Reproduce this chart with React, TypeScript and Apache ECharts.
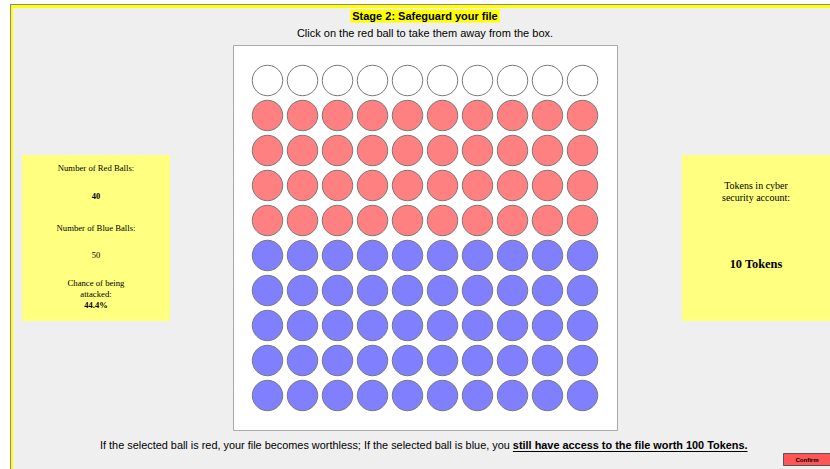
import React, { useEffect, useRef } from 'react';
import * as echarts from 'echarts';

// ---- data ----
const columns = ['1', '2', '3', '4', '5', '6', '7', '8', '9', '10'];
const rows = ['1', '2', '3', '4', '5', '6', '7', '8', '9', '10'];
const rowBallTypes = ['empty', 'red', 'red', 'red', 'red', 'blue', 'blue', 'blue', 'blue', 'blue'];
const ballColors: Record<string, string> = { empty: '#ffffff', red: '#ff8080', blue: '#8080ff' };
const redBalls = '40';
const blueBalls = '50';
const attackChance = '44.4%';
const accountTokens = '10 Tokens';
const titleText = 'Stage 2: Safeguard your file';
const subtitleText = 'Click on the red ball to take them away from the box.';
const footerNormal = 'If the selected ball is red, your file becomes worthless; If the selected ball is blue, you';
const footerBold = 'still have access to the file worth 100 Tokens.';

const SANS = 'Arial, "Liberation Sans", sans-serif';
const SERIF = '"Liberation Serif", "DejaVu Serif", serif';

function measure(text: string, font: string) {
  const c = document.createElement('canvas').getContext('2d')!;
  c.font = font;
  return c.measureText(text).width;
}

function txt(text: string, x: number, y: number, size: number, opts: any = {}) {
  const align = opts.align || 'center';
  return {
    type: 'text',
    z: 100,
    style: {
      text,
      x,
      y,
      fontSize: size,
      fontFamily: opts.family || SANS,
      fontWeight: opts.bold ? 'bold' : 'normal',
      fill: opts.color || '#000',
      textAlign: align,
      align,
      textVerticalAlign: 'middle',
      verticalAlign: 'middle',
      backgroundColor: opts.bg,
      padding: opts.bg ? [1, 2] : undefined,
    },
  };
}

export default function App() {
  const ref = useRef<HTMLDivElement>(null);
  useEffect(() => {
    const chart = echarts.init(ref.current!, null, { renderer: 'svg' });
    const data: any[] = [];
    rows.forEach((r, i) => {
      columns.forEach((c) => {
        data.push({ value: [c, r], itemStyle: { color: ballColors[rowBallTypes[i]] } });
      });
    });
    const footSize = 10.9;
    const footLeft = 100;
    const normalW = measure(footerNormal + ' ', `${footSize}px Arial, "Liberation Sans", sans-serif`);
    const boldW = measure(footerBold, `bold ${footSize}px Arial, "Liberation Sans", sans-serif`);
    const boldX = footLeft + normalW;
    chart.setOption({
      animation: false,
      backgroundColor: '#ffffff',
      grid: { left: 250, top: 63, width: 350, height: 350 },
      xAxis: { type: 'category', data: columns, show: false },
      yAxis: { type: 'category', data: rows, inverse: true, show: false },
      series: [
        {
          type: 'scatter',
          symbol: 'circle',
          symbolSize: 30.5,
          data,
          itemStyle: { borderColor: '#777', borderWidth: 1, opacity: 1 },
          emphasis: { disabled: true },
          z: 10,
        },
      ],
      graphic: [
        // page frame
        { type: 'rect', z: -10, shape: { x: 10, y: 4, width: 830, height: 480 }, style: { fill: '#8a8a8a' } },
        { type: 'rect', z: -9, shape: { x: 11, y: 5, width: 830, height: 480 }, style: { fill: '#ffff00' } },
        { type: 'rect', z: -8, shape: { x: 13, y: 8, width: 830, height: 480 }, style: { fill: '#efefef' } },
        // ball box
        { type: 'rect', z: -5, shape: { x: 233.5, y: 45.5, width: 384, height: 385 }, style: { fill: '#ffffff', stroke: '#aaaaaa', lineWidth: 1 } },
        // side panels
        { type: 'rect', z: -5, shape: { x: 22, y: 155, width: 148, height: 166 }, style: { fill: '#ffff80' } },
        { type: 'rect', z: -5, shape: { x: 682, y: 155, width: 160, height: 166 }, style: { fill: '#ffff80' } },
        // header
        txt(titleText, 425, 16, 11, { bold: true, bg: '#ffff00' }),
        txt(subtitleText, 425, 33, 11),
        // left panel
        txt('Number of Red Balls:', 96, 168, 8.7, { family: SERIF }),
        txt(redBalls, 96, 196, 8.5, { family: SERIF, bold: true }),
        txt('Number of Blue Balls:', 96, 228, 8.7, { family: SERIF }),
        txt(blueBalls, 96, 255, 8.5, { family: SERIF }),
        txt('Chance of being', 96, 283, 8.7, { family: SERIF }),
        txt('attacked:', 96, 294, 8.7, { family: SERIF }),
        txt(attackChance, 96, 305, 8.5, { family: SERIF, bold: true }),
        // right panel
        txt('Tokens in cyber', 756, 185, 10, { family: SERIF }),
        txt('security account:', 756, 197, 10, { family: SERIF }),
        txt(accountTokens, 756, 264, 12.4, { family: SERIF, bold: true }),
        // footer
        txt(footerNormal, footLeft, 445, footSize, { align: 'left' }),
        txt(footerBold, boldX, 445, footSize, { align: 'left', bold: true }),
        { type: 'line', z: 100, shape: { x1: boldX, y1: 451.5, x2: boldX + boldW, y2: 451.5 }, style: { stroke: '#000', lineWidth: 1 } },
        // confirm button
        { type: 'rect', z: 50, shape: { x: 783.5, y: 453.5, width: 50, height: 12 }, style: { fill: '#ff5555', stroke: '#555555', lineWidth: 1 } },
        txt('Confirm', 807, 459.5, 6, { bold: true }),
      ],
    });
    return () => chart.dispose();
  }, []);
  return <div ref={ref} style={{ position: 'fixed', left: 0, top: 0, width: 830, height: 469 }} />;
}
